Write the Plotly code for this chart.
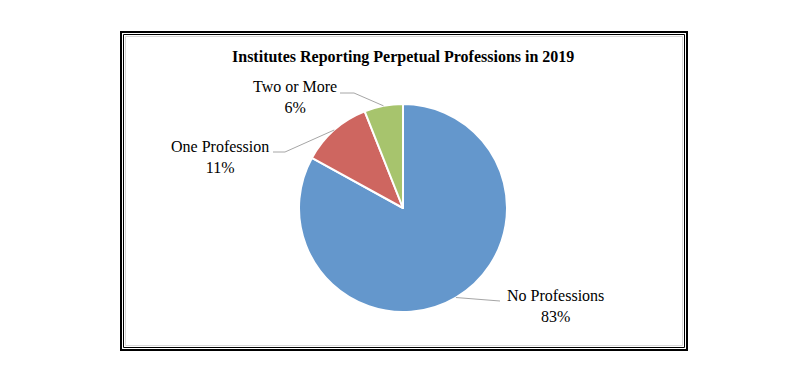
import math
import plotly.graph_objects as go

labels = ["No Professions", "One Profession", "Two or More"]
values = [83, 11, 6]
colors = ["#6497CC", "#CE6660", "#A7C46D"]
title_text = "Institutes Reporting Perpetual Professions in 2019"

W, H = 807, 376
OFF = 8  # page body margin
cx, cy, R = 403 - OFF, 208 - OFF, 104

def px(x):
    return (x - OFF) / W

def py(y):
    return 1 - (y - OFF) / H

fig = go.Figure(go.Pie(
    labels=labels, values=values, sort=False, direction="clockwise", rotation=0,
    marker=dict(colors=colors, line=dict(color="white", width=2)),
    textinfo="none", hoverinfo="label+percent", showlegend=False,
    domain=dict(x=[(cx - R) / W, (cx + R) / W], y=[1 - (cy + R) / H, 1 - (cy - R) / H]),
))

font = dict(family="Liberation Serif, Times New Roman, serif", size=16, color="black")

label_pos = {
    "No Professions": ((555, 306), [(500, 301)]),
    "One Profession": ((220, 157), [(273, 152), (285, 152)]),
    "Two or More": ((295, 97), [(340, 93), (354, 93)]),
}

shapes = []
annotations = []
total = sum(values)
cum = 0
for lab, v in zip(labels, values):
    mid = (cum + v / 2) / total * 2 * math.pi
    cum += v
    ex = 403 + R * math.sin(mid)
    ey = 208 - R * math.cos(mid)
    (tx, ty), pts = label_pos[lab]
    path_pts = pts + [(ex, ey)]
    path = "M " + " L ".join(f"{px(x)},{py(y)}" for x, y in path_pts)
    shapes.append(dict(type="path", xref="paper", yref="paper", path=path,
                       line=dict(color="#A6A6A6", width=1)))
    pct = round(v / total * 100)
    annotations.append(dict(text=f"{lab}<br>{pct}%", x=px(tx), y=py(ty),
                            xref="paper", yref="paper", showarrow=False,
                            font=font, align="center", xanchor="center", yanchor="middle"))

annotations.append(dict(text=f"<b>{title_text}</b>", x=px((232 + 573) / 2), y=py(57),
                        xref="paper", yref="paper", showarrow=False,
                        font=dict(family="Liberation Serif, Times New Roman, serif", size=16, color="black"),
                        xanchor="center", yanchor="middle"))

def rect(x0, y0, x1, y1, color, width):
    return dict(type="rect", xref="paper", yref="paper",
                x0=px(x0), x1=px(x1), y0=py(y1), y1=py(y0),
                line=dict(color=color, width=width), fillcolor="rgba(0,0,0,0)", layer="below")

shapes.append(rect(121, 32, 687, 350, "black", 2))
shapes.append(rect(123.5, 34.5, 684.5, 347.5, "black", 1))
shapes.append(rect(125.5, 36.5, 682.5, 345.5, "#D9D9D9", 1))

fig.update_layout(
    width=W, height=H, margin=dict(l=0, r=0, t=0, b=0),
    paper_bgcolor="white", plot_bgcolor="white",
    shapes=shapes, annotations=annotations,
)
fig.write_html("out.html")
